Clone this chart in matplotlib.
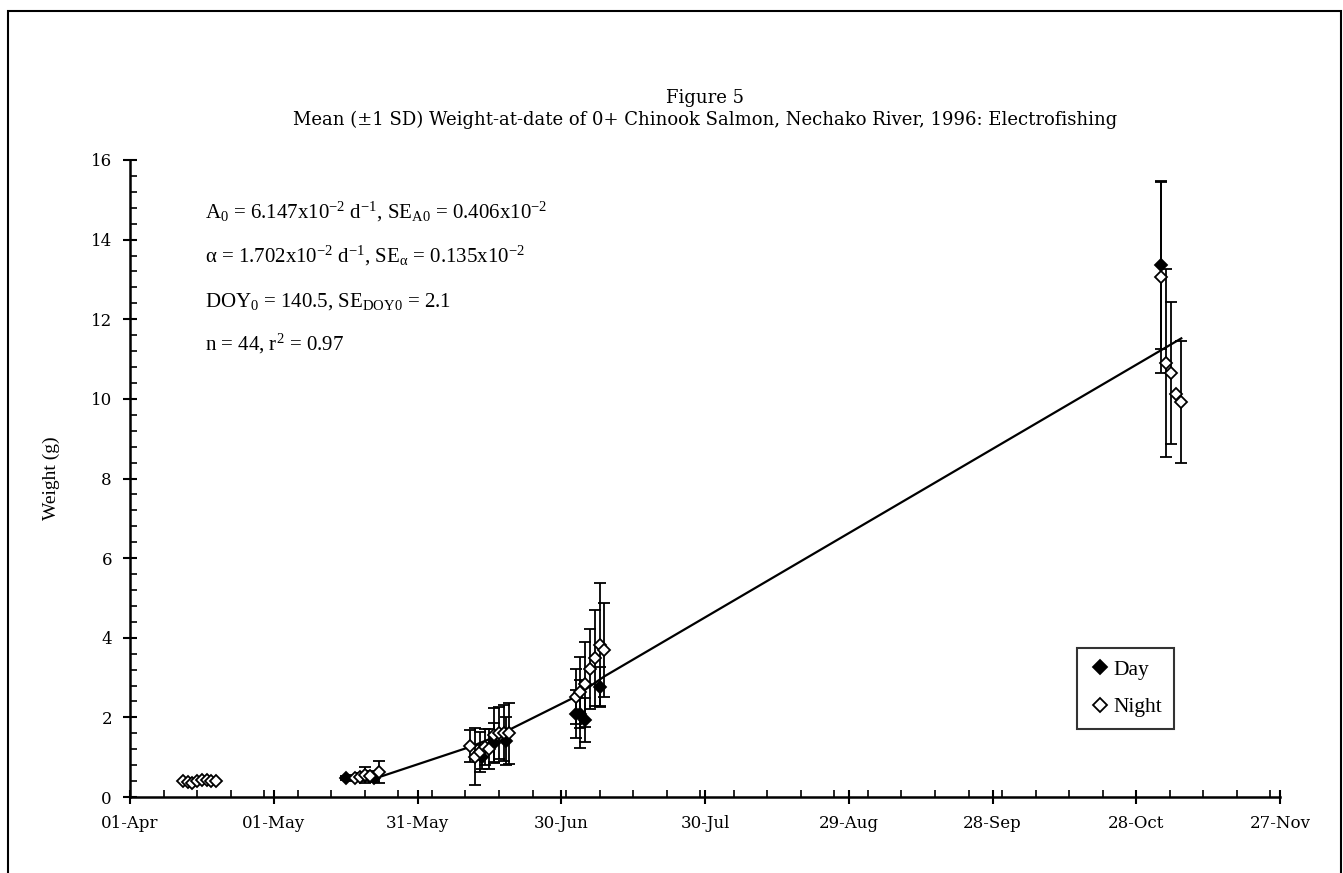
import numpy as np
import matplotlib.pyplot as plt
from matplotlib.lines import Line2D
from matplotlib.patches import Rectangle
from matplotlib.ticker import MultipleLocator, FixedLocator

plt.rcParams['mathtext.fontset'] = 'custom'
plt.rcParams['mathtext.rm'] = 'Liberation Serif'
plt.rcParams['mathtext.it'] = 'Liberation Serif:italic'
plt.rcParams['mathtext.bf'] = 'Liberation Serif:bold'

SERIF = 'Liberation Serif'
WIDE = 'DejaVu Serif'

# day of year (1996), mean weight (g), SD
day_doy = [137, 143, 165.5, 168, 170.5, 185, 186, 187, 190, 307.2]
day_w = [0.48, 0.47, 1.01, 1.35, 1.40, 2.08, 2.08, 1.93, 2.77, 13.36]
day_sd = [0.05, 0.10, 0.30, 0.50, 0.60, 0.60, 0.85, 0.55, 0.50, 2.10]

night_doy = [103, 104, 105, 106, 107, 108, 109, 110,
             139, 140, 141, 142, 144,
             163, 164, 165, 166, 167, 168, 169, 170, 171,
             185, 186, 187, 188, 189, 190, 191,
             307.2, 308.3, 309.2, 310.3, 311.4]
night_w = [0.40, 0.38, 0.35, 0.40, 0.42, 0.42, 0.40, 0.40,
           0.48, 0.51, 0.55, 0.53, 0.62,
           1.28, 1.01, 1.14, 1.26, 1.20, 1.56, 1.60, 1.60, 1.60,
           2.52, 2.63, 2.83, 3.21, 3.49, 3.83, 3.69,
           13.05, 10.90, 10.65, 10.12, 9.93]
night_sd = [0.0, 0.0, 0.0, 0.0, 0.0, 0.0, 0.0, 0.0,
            0.08, 0.10, 0.20, 0.12, 0.28,
            0.40, 0.72, 0.50, 0.45, 0.50, 0.67, 0.65, 0.70, 0.76,
            0.69, 0.89, 1.06, 1.01, 1.21, 1.55, 1.19,
            2.40, 2.37, 1.78, 0.0, 1.53]

# fitted curve as drawn
fit_doy = [143, 163, 168, 184.5, 191, 311.4]
fit_w = [0.46, 1.26, 1.50, 2.49, 3.03, 11.52]

month_labels = ['01-Apr', '01-May', '31-May', '30-Jun', '30-Jul',
                '29-Aug', '28-Sep', '28-Oct', '27-Nov']

notes = [r'A$_0$ = 6.147x10$^{\mathrm{-2}}$ d$^{\mathrm{-1}}$, SE$_{\mathrm{A0}}$ = 0.406x10$^{\mathrm{-2}}$',
         r'α = 1.702x10$^{\mathrm{-2}}$ d$^{\mathrm{-1}}$, SE$_{\mathrm{α}}$ = 0.135x10$^{\mathrm{-2}}$',
         r'DOY$_0$ = 140.5, SE$_{\mathrm{DOY0}}$ = 2.1',
         r'n = 44, r$^{\mathrm{2}}$ = 0.97']

W, H = 1343, 873
fig = plt.figure(figsize=(W / 100, H / 100), dpi=100)
ax = fig.add_axes([130 / W, 1 - 797 / H, 1150 / W, 637 / H])

# outer frame
fig.patches.append(Rectangle((8 / W, -0.05), 1333 / W, 1.05 - 11 / H,
                             transform=fig.transFigure, fill=False,
                             edgecolor='black', linewidth=1.5))

ax.plot(fit_doy, fit_w, color='black', lw=1.6, zorder=1)

eb = dict(fmt='D', ms=6, ecolor='black', elinewidth=1.3, capsize=4,
          capthick=1.3, mec='black', mew=1.3, zorder=3)
ax.errorbar(day_doy, day_w, yerr=day_sd, mfc='black', **eb)
ax.errorbar(night_doy, night_w, yerr=night_sd, mfc='white', **eb)

ax.set_xlim(92, 332)
ax.set_ylim(0, 16)
ax.set_xticks(np.arange(92, 333, 30))
ax.set_xticklabels(month_labels, fontfamily=WIDE, fontsize=12)
ax.xaxis.set_minor_locator(FixedLocator(np.arange(92, 333, 7)))
ax.yaxis.set_major_locator(MultipleLocator(2))
ax.yaxis.set_minor_locator(MultipleLocator(0.4))
for lab in ax.get_yticklabels():
    lab.set_fontfamily(WIDE)
    lab.set_fontsize(12)
ax.tick_params(which='major', direction='inout', length=10, width=1.5, pad=8)
ax.tick_params(which='minor', direction='in', length=5, width=1.2)
for s in ['top', 'right']:
    ax.spines[s].set_visible(False)
for s in ['left', 'bottom']:
    ax.spines[s].set_linewidth(1.8)

ax.set_ylabel('Weight (g)', fontfamily=SERIF, fontsize=14, labelpad=22)

fig.text(705 / W, 1 - 98 / H, 'Figure 5', ha='center', va='center',
         fontfamily=WIDE, fontsize=13)
fig.text(705 / W, 1 - 120 / H,
         'Mean (±1 SD) Weight-at-date of 0+ Chinook Salmon, Nechako River, 1996: Electrofishing',
         ha='center', va='center', fontfamily=WIDE, fontsize=13)

for txt, yb in zip(notes, [218, 262, 307, 350]):
    fig.text(205 / W, 1 - yb / H, txt, ha='left', va='baseline',
             fontfamily=SERIF, fontsize=15)

handles = [Line2D([], [], ls='none', marker='D', ms=7, mfc='black', mec='black', mew=1.3),
           Line2D([], [], ls='none', marker='D', ms=7, mfc='white', mec='black', mew=1.3)]
leg = ax.legend(handles, ['Day', 'Night'], loc='upper left',
                bbox_to_anchor=((1077 - 130) / 1150, (797 - 648) / 637),
                frameon=True, fancybox=False,
                edgecolor='black', handlelength=1.0, handletextpad=0.15,
                labelspacing=0.8, borderpad=0.55, borderaxespad=0,
                prop={'family': SERIF, 'size': 15.5})
leg.get_frame().set_linewidth(1.5)

fig.savefig('out.png', dpi=100)
